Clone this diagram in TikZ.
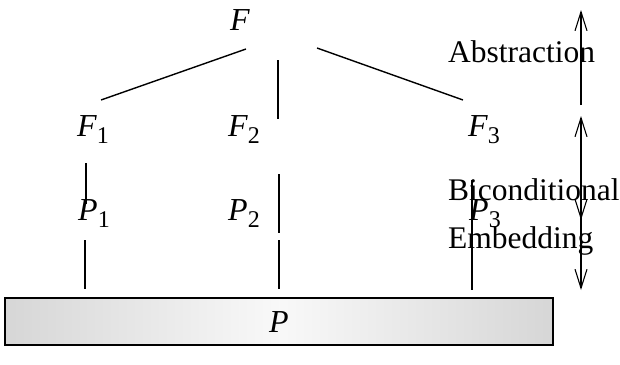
\documentclass[tikz,border=0pt]{standalone}
\usepackage{fontspec}
\setmainfont{Liberation Serif}
\usetikzlibrary{arrows.meta}
\newcommand\symb[2]{\textit{#1}\raisebox{-7pt}{\fontsize{24}{26}\selectfont #2}}
\tikzset{
  lbl/.style={inner sep=0pt, font=\fontsize{31.5}{36}\selectfont},
  sym/.style={inner sep=0pt, font=\fontsize{32}{36}\selectfont},
  seg/.style={line width=1.4pt},
  barb/.tip={Straight Barb[length=19pt,width=12pt,line width=1.1pt]},
  arr/.style={line width=1.1pt, -barb},
  darr/.style={line width=1.1pt, barb-barb}
}
\begin{document}
\begin{tikzpicture}[x=1pt,y=-1pt]
\useasboundingbox (0,0) rectangle (620,364);
% base box
\shade[left color=gray!32, right color=gray!32, middle color=gray!5] (5,298) rectangle (553,345);
\draw[line width=1.2pt] (5,298) rectangle (553,345);
\node[sym] (P) at (279,322) {\textit{P}};
% symbols
\node[sym] (F) at (240,20) {\textit{F}};
\node[sym] (F1) at (93,130) {\symb{F}{1}};
\node[sym] (F2) at (244,130) {\symb{F}{2}};
\node[sym] (F3) at (484,130) {\symb{F}{3}};
\node[sym] (P1) at (94,214) {\symb{P}{1}};
\node[sym] (P2) at (244,214) {\symb{P}{2}};
\node[sym] (P3) at (485,214) {\symb{P}{3}};
% labels
\node[lbl, anchor=west] (abs) at (448,52) {Abstraction};
\node[lbl, anchor=west] (bic) at (448,190) {Biconditional};
\node[lbl, anchor=west] (emb) at (448,241) {Embedding};
% segment end points
\coordinate (l1a) at (101,100); \coordinate (l1b) at (246,49);
\coordinate (l2a) at (278,60);  \coordinate (l2b) at (278,119);
\coordinate (l3a) at (317,48);  \coordinate (l3b) at (463,100);
\coordinate (v1a) at (86,163);  \coordinate (v1b) at (86,204);
\coordinate (v2a) at (279,174); \coordinate (v2b) at (279,233);
\coordinate (v3a) at (472,180); \coordinate (v3b) at (472,290);
\coordinate (w1a) at (85,240);  \coordinate (w1b) at (85,289);
\coordinate (w2a) at (279,240); \coordinate (w2b) at (279,289);
\draw[seg] (l1a) -- (l1b);
\draw[seg] (l2a) -- (l2b);
\draw[seg] (l3a) -- (l3b);
\draw[seg] (v1a) -- (v1b);
\draw[seg] (v2a) -- (v2b);
\draw[seg] (v3a) -- (v3b);
\draw[seg] (w1a) -- (w1b);
\draw[seg] (w2a) -- (w2b);
% right arrows
\coordinate (a1) at (581,105); \coordinate (a2) at (581,10);
\coordinate (b1) at (581,116); \coordinate (b2) at (581,220);
\coordinate (e1) at (581,200); \coordinate (e2) at (581,290);
\draw[arr] (a1) -- (a2);
\draw[darr] (b1) -- (b2);
\draw[arr] (e1) -- (e2);
\end{tikzpicture}
\end{document}
